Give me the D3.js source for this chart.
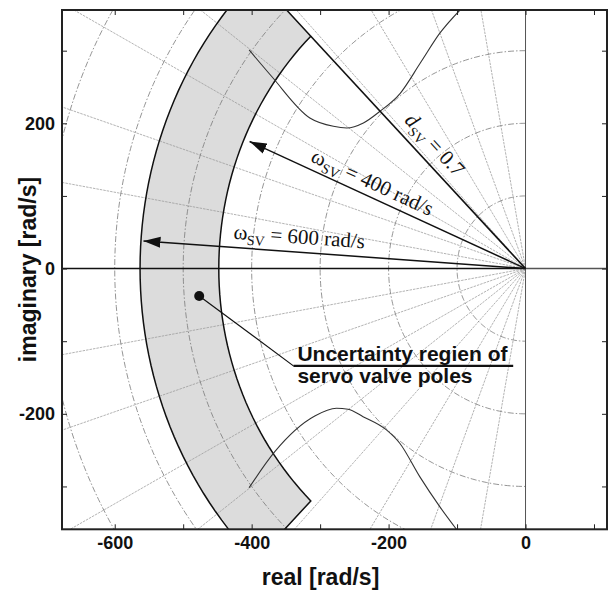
<!DOCTYPE html>
<html>
<head>
<meta charset="utf-8">
<script src="https://cdn.jsdelivr.net/npm/d3@7"></script>
<style>
  body { margin: 0; background: #fff; }
</style>
</head>
<body>
<div id="chart"></div>
<script>
// axis ticks (labels only every 200 rad/s)
var xTicks = [-600, -500, -400, -300, -200, -100, 0, 100];
var xTickLabels = [-600, -400, -200, 0];
var yTicks = [-300, -200, -100, 0, 100, 200, 300];
var yTickLabels = [-200, 0, 200];

// s-plane grid: natural frequencies [rad/s] and damping ratios
var gridOmega = [100, 200, 300, 400, 500, 600, 700];
var gridDamping = [0.985, 0.95, 0.88, 0.8, 0.685, 0.535, 0.36, 0.18];

// uncertainty region of the servo valve poles
var regionOmega = [448, 563];
var regionDamping = 0.7;
var nominalPole = [-476.6, -37.7];

// arrow tips [real, imag]
var arrow400 = [-403, 175];
var arrow600 = [-558, 38];

// bound curves [real, imag]
var upperCurve = [[-403.7, 301], [-371, 264.8], [-315, 207.4], [-280.6, 195.9], [-261.1, 193.6],
    [-236.8, 200.5], [-212.5, 216.6], [-183.3, 241], [-153, 284], [-124.9, 324.4], [-95.7, 356]];
var lowerCurve = [[-403.7, -301.7], [-366.2, -252.1], [-307.8, -203], [-276.1, -192.3], [-259.2, -193.7],
    [-237.3, -203.9], [-203.1, -222.2], [-183.7, -240.5], [-154.5, -286.5], [-125.3, -327.8], [-100.9, -359]];

// callout from the nominal pole to the text
var calloutLine = [[-476.6, -37.7], [-339, -134], [-18, -134]];

// label anchor points [real, imag]
var dLabelAt = [-178, 203];
var w400LabelAt = [-315, 148];
var w600LabelAt = [-427, 41];

var W = 615, H = 590;
var pL = 62, pR = 607, pT = 10, pB = 529.3;

var svg = d3.select("#chart").append("svg")
    .attr("width", W)
    .attr("height", H)
    .style("font-family", "'Liberation Sans', Arial, sans-serif");

var x = d3.scaleLinear().domain([-677, 119]).range([pL, pR]);
var y = d3.scaleLinear().domain([-359, 356]).range([pB, pT]);

var defs = svg.append("defs");
defs.append("clipPath").attr("id", "plotclip")
    .append("rect")
    .attr("x", pL).attr("y", pT)
    .attr("width", pR - pL).attr("height", pB - pT);

defs.append("marker")
    .attr("id", "head")
    .attr("markerUnits", "userSpaceOnUse")
    .attr("viewBox", "0 -6 18 12")
    .attr("refX", 17).attr("refY", 0)
    .attr("markerWidth", 18).attr("markerHeight", 12)
    .attr("orient", "auto")
    .append("path")
    .attr("d", "M0,-5.5L17,0L0,5.5Z")
    .attr("fill", "#111");

var plot = svg.append("g").attr("clip-path", "url(#plotclip)");

var line = d3.line().x(d => x(d[0])).y(d => y(d[1]));

// shaded region (annular sector, damping >= 0.7)
var th0 = Math.acos(regionDamping);
var regionPts = [];
d3.range(0, 61).forEach(function(i) {
    var t = -th0 + 2 * th0 * i / 60;
    regionPts.push([-regionOmega[1] * Math.cos(t), regionOmega[1] * Math.sin(t)]);
});
d3.range(60, -1, -1).forEach(function(i) {
    var t = -th0 + 2 * th0 * i / 60;
    regionPts.push([-regionOmega[0] * Math.cos(t), regionOmega[0] * Math.sin(t)]);
});
plot.append("path")
    .attr("d", line(regionPts) + "Z")
    .attr("fill", "#dcdcdc")
    .attr("stroke", "none");

// grid: damping lines
gridDamping.forEach(function(z) {
    var s = Math.sqrt(1 - z * z);
    [1, -1].forEach(function(sg) {
        plot.append("path")
            .attr("d", line([[0, 0], [-1200 * z, sg * 1200 * s]]))
            .attr("fill", "none")
            .attr("stroke", "#9a9a9a")
            .attr("stroke-width", 0.75)
            .attr("stroke-dasharray", "2.5,1");
    });
});

// grid: natural frequency semicircles
gridOmega.forEach(function(w) {
    var pts = d3.range(0, 181).map(function(i) {
        var a = Math.PI / 2 + Math.PI * i / 180;
        return [w * Math.cos(a), w * Math.sin(a)];
    });
    plot.append("path")
        .attr("d", line(pts))
        .attr("fill", "none")
        .attr("stroke", "#7a7a7a")
        .attr("stroke-width", 0.8)
        .attr("stroke-dasharray", "6,2,1.5,2");
});

// region outline
plot.append("path")
    .attr("d", line(regionPts) + "Z")
    .attr("fill", "none")
    .attr("stroke", "#111")
    .attr("stroke-width", 1.5);

// bound curves
[upperCurve, lowerCurve].forEach(function(c) {
    plot.append("path")
        .attr("d", d3.line().x(d => x(d[0])).y(d => y(d[1])).curve(d3.curveMonotoneX)(c))
        .attr("fill", "none")
        .attr("stroke", "#333")
        .attr("stroke-width", 1.1);
});

// real and imaginary axes
plot.append("line")
    .attr("x1", x(0)).attr("x2", x(0)).attr("y1", pT).attr("y2", pB)
    .attr("stroke", "#555").attr("stroke-width", 1);
plot.append("line")
    .attr("x1", pL).attr("x2", x(0)).attr("y1", y(0)).attr("y2", y(0))
    .attr("stroke", "#111").attr("stroke-width", 1.6);
plot.append("line")
    .attr("x1", x(0)).attr("x2", pR).attr("y1", y(0)).attr("y2", y(0))
    .attr("stroke", "#555").attr("stroke-width", 1.4);

// damping line d = 0.7 up to the region
var dCorner = [-regionOmega[0] * regionDamping, regionOmega[0] * Math.sin(th0)];
plot.append("path")
    .attr("d", line([[0, 0], dCorner]))
    .attr("stroke", "#111").attr("stroke-width", 1.6);

// arrows
[arrow400, arrow600].forEach(function(a) {
    plot.append("path")
        .attr("d", line([[0, 0], a]))
        .attr("stroke", "#111")
        .attr("stroke-width", 1.5)
        .attr("marker-end", "url(#head)");
});

// nominal pole and callout
plot.append("path")
    .attr("d", line(calloutLine.slice(0, 2)))
    .attr("fill", "none")
    .attr("stroke", "#111")
    .attr("stroke-width", 1.2);
plot.append("line")
    .attr("x1", x(calloutLine[1][0])).attr("x2", x(calloutLine[2][0]))
    .attr("y1", y(calloutLine[1][1])).attr("y2", y(calloutLine[2][1]))
    .attr("stroke", "#111").attr("stroke-width", 2.2);
plot.append("circle")
    .attr("cx", x(nominalPole[0])).attr("cy", y(nominalPole[1]))
    .attr("r", 5).attr("fill", "#111");

var cx0 = x(calloutLine[1][0]) + 4, cy0 = y(calloutLine[1][1]);
svg.append("text")
    .attr("x", cx0).attr("y", cy0 - 5)
    .attr("font-size", 21).attr("font-weight", "bold").attr("fill", "#111")
    .text("Uncertainty regien of");
svg.append("text")
    .attr("x", cx0).attr("y", cy0 + 17.5)
    .attr("font-size", 21).attr("font-weight", "bold").attr("fill", "#111")
    .text("servo valve poles");

// rotated serif labels
function pixAngle(p) {
    return Math.atan2(y(0) - y(p[1]), x(0) - x(p[0])) * 180 / Math.PI;
}
function serifLabel(at, angle, parts) {
    var t = svg.append("text")
        .attr("transform", "translate(" + x(at[0]) + "," + y(at[1]) + ") rotate(" + angle + ")")
        .attr("font-family", "'Liberation Serif', 'Times New Roman', serif")
        .attr("font-size", 21)
        .attr("fill", "#111");
    parts.forEach(function(p) {
        var s = t.append("tspan").text(p.text);
        if (p.sub) s.attr("font-size", 14).attr("dy", 5);
        if (p.after) s.attr("dy", -5);
        if (p.italic) s.attr("font-style", "italic");
    });
}
serifLabel(dLabelAt, pixAngle(dCorner), [
    {text: "d", italic: true}, {text: "SV", sub: true}, {text: " = 0.7", after: true}]);
serifLabel(w400LabelAt, pixAngle(arrow400), [
    {text: "\u03c9"}, {text: "SV", sub: true}, {text: " = 400 rad/s", after: true}]);
serifLabel(w600LabelAt, pixAngle(arrow600), [
    {text: "\u03c9"}, {text: "SV", sub: true}, {text: " = 600 rad/s", after: true}]);

// axes
function styleAxis(g) {
    g.select(".domain").remove();
    g.selectAll(".tick line").attr("stroke", "#222").attr("stroke-width", 1);
    g.selectAll("text")
        .style("font-family", "'Liberation Sans', Arial, sans-serif")
        .style("font-size", "18px")
        .style("font-weight", "bold")
        .attr("fill", "#111");
}
svg.append("g")
    .attr("transform", "translate(0," + pB + ")")
    .call(d3.axisBottom(x).tickValues(xTicks).tickSizeInner(-5).tickSizeOuter(0).tickPadding(7)
        .tickFormat(d => xTickLabels.includes(d) ? String(d) : ""))
    .call(styleAxis);
svg.append("g")
    .attr("transform", "translate(0," + pT + ")")
    .call(d3.axisTop(x).tickValues(xTicks).tickSizeInner(-5).tickSizeOuter(0).tickFormat(""))
    .call(styleAxis);
svg.append("g")
    .attr("transform", "translate(" + pL + ",0)")
    .call(d3.axisLeft(y).tickValues(yTicks).tickSizeInner(-5).tickSizeOuter(0).tickPadding(7)
        .tickFormat(d => yTickLabels.includes(d) ? String(d) : ""))
    .call(styleAxis);
svg.append("g")
    .attr("transform", "translate(" + pR + ",0)")
    .call(d3.axisRight(y).tickValues(yTicks).tickSizeInner(-5).tickSizeOuter(0).tickFormat(""))
    .call(styleAxis);

// frame
svg.append("rect")
    .attr("x", pL).attr("y", pT)
    .attr("width", pR - pL).attr("height", pB - pT)
    .attr("fill", "none")
    .attr("stroke", "#222")
    .attr("stroke-width", 2);

// axis titles
svg.append("text")
    .attr("x", 320.5).attr("y", 585)
    .attr("text-anchor", "middle")
    .attr("font-size", 23).attr("font-weight", "bold").attr("fill", "#111")
    .text("real [rad/s]");
svg.append("text")
    .attr("transform", "translate(36,269.5) rotate(-90)")
    .attr("text-anchor", "middle")
    .attr("font-size", 23).attr("font-weight", "bold").attr("fill", "#111")
    .text("imaginary [rad/s]");
</script>
</body>
</html>
